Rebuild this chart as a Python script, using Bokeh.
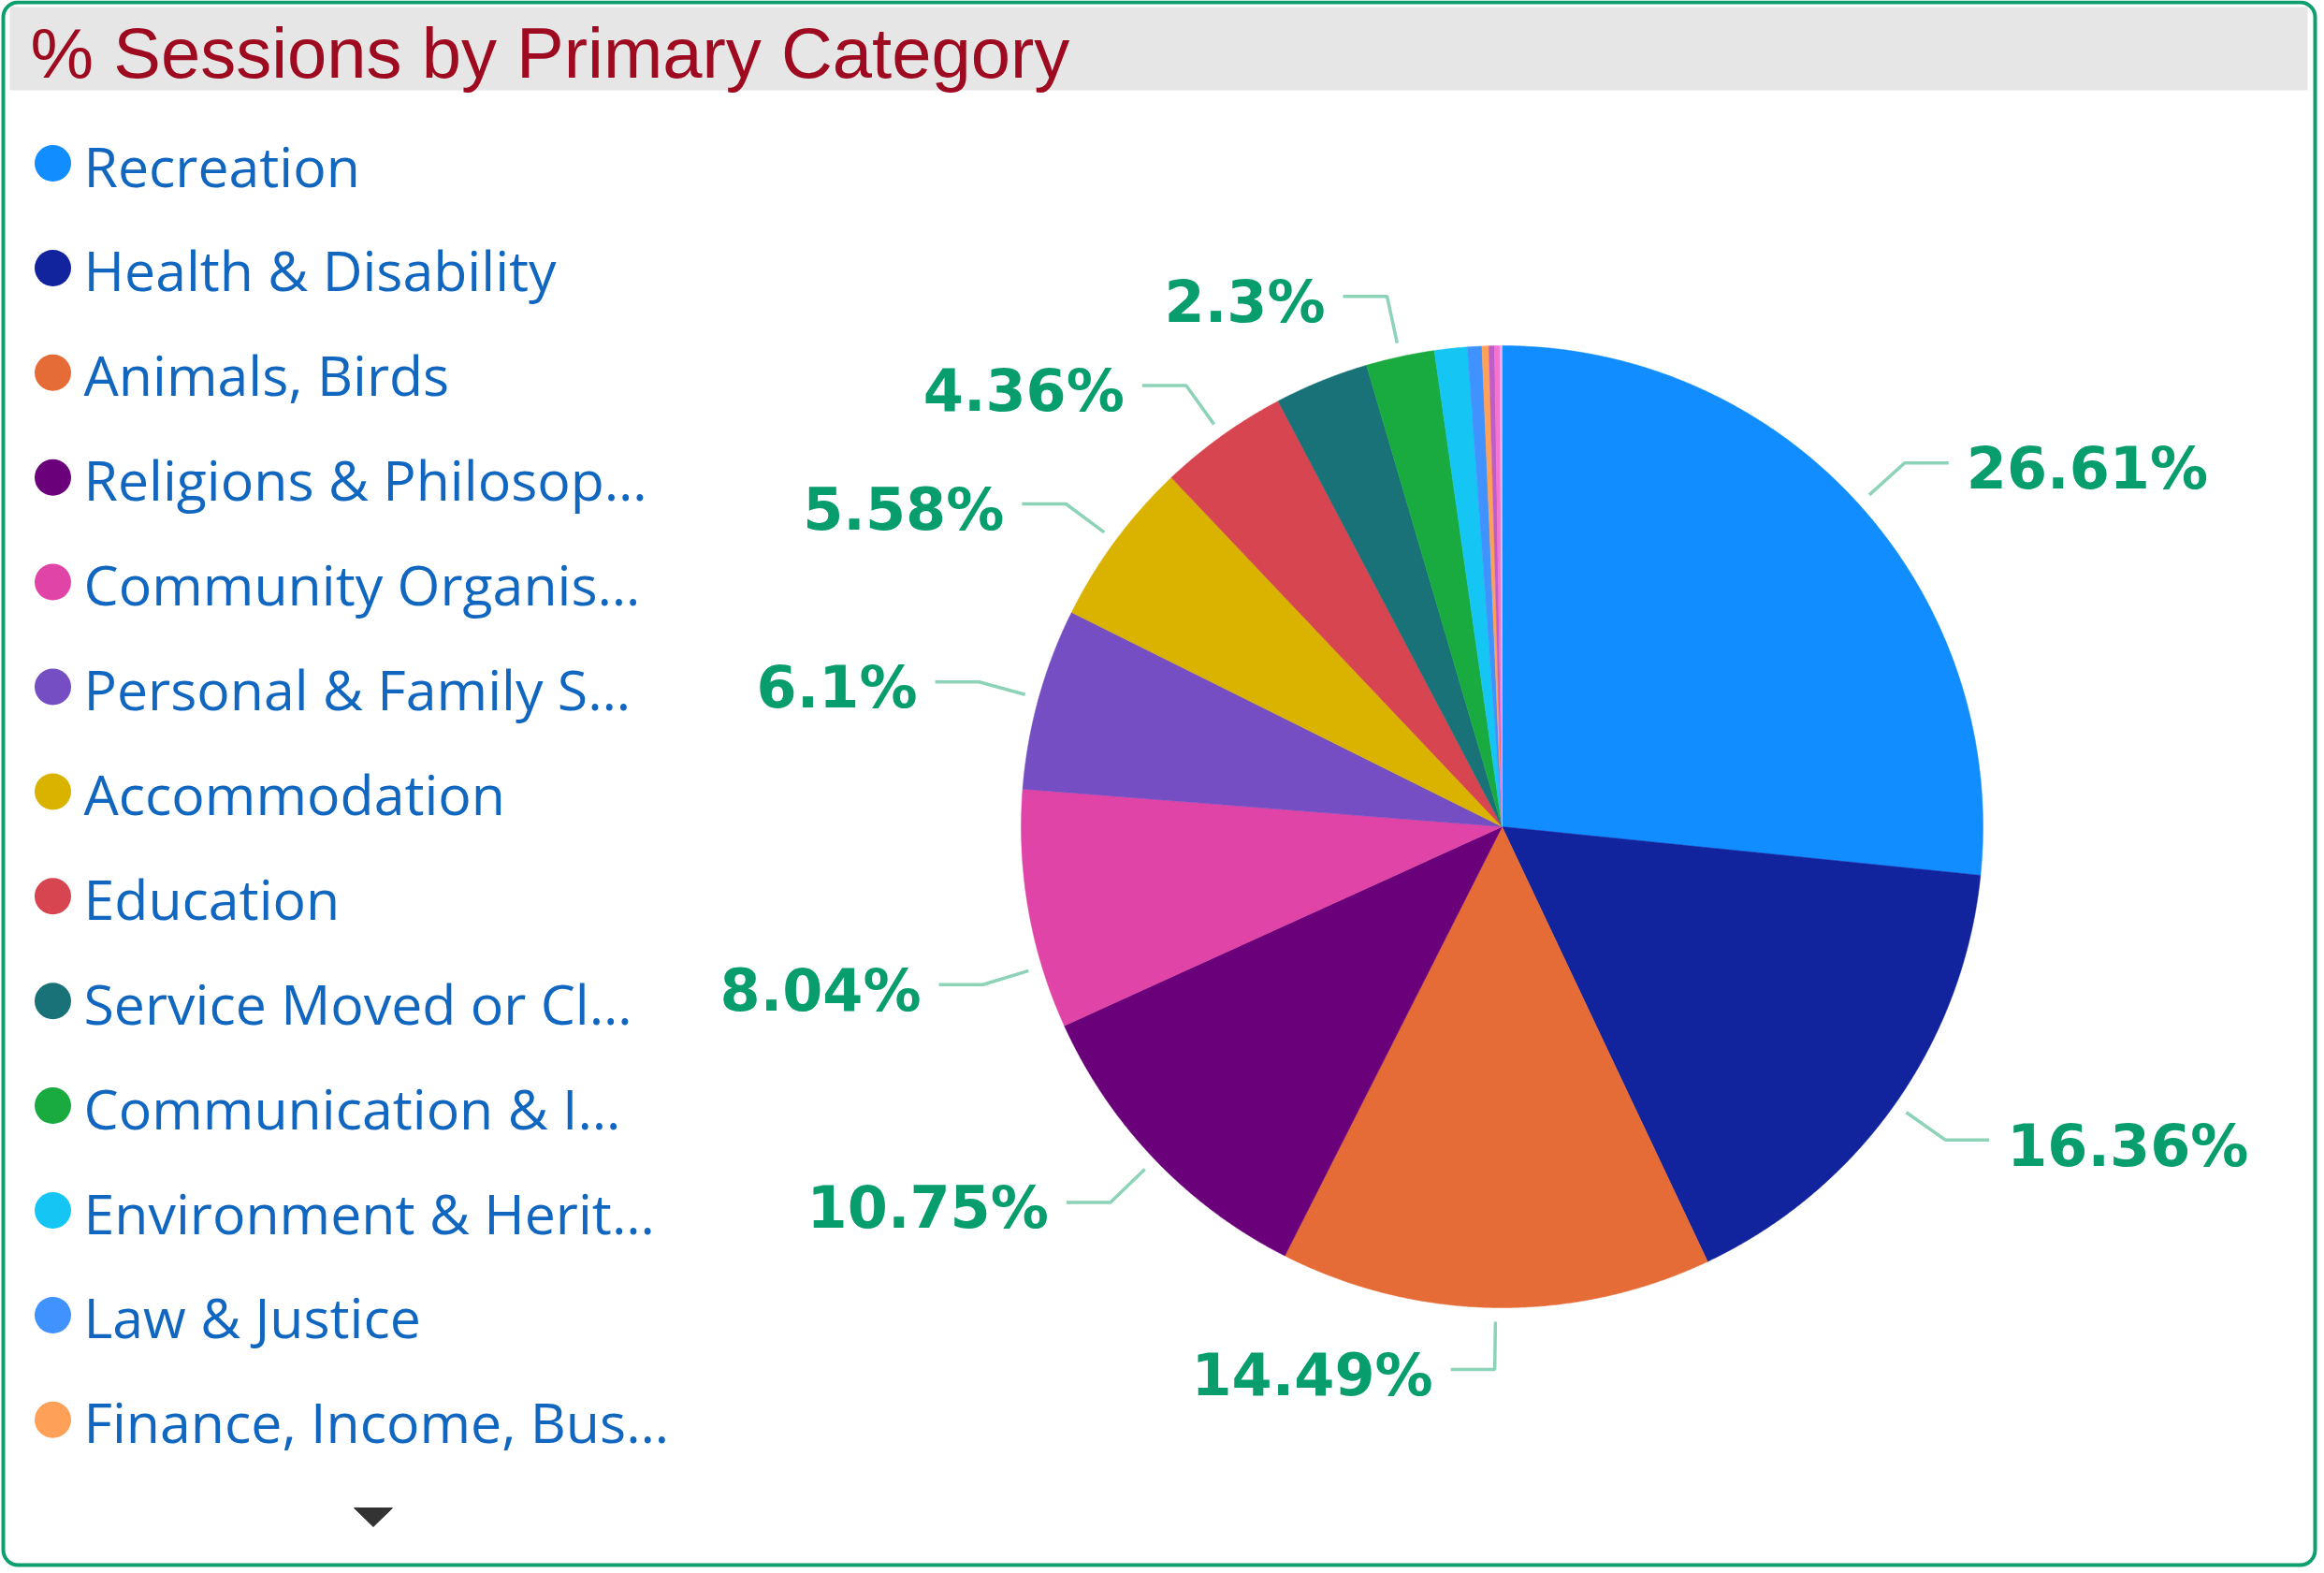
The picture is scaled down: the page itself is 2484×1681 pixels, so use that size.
import numpy as np
from bokeh.plotting import figure
from bokeh.models import Range1d, BoxAnnotation, ColumnDataSource
from bokeh.embed import file_html
from bokeh.resources import INLINE
from bokeh.core.properties import value

# ---------------- data ----------------
title = "% Sessions by Primary Category"
categories = [
    "Recreation", "Health & Disability", "Animals, Birds", "Religions & Philosop\u2026",
    "Community Organis\u2026", "Personal & Family S\u2026", "Accommodation", "Education",
    "Service Moved or Cl\u2026", "Communication & I\u2026", "Environment & Herit\u2026",
    "Law & Justice", "Finance, Income, Bus\u2026", "Employment", "Housing", "Other",
]
percent = [26.61, 16.36, 14.49, 10.75, 8.04, 6.10, 5.58, 4.36, 3.16, 2.30, 1.10, 0.48, 0.23, 0.19, 0.18, 0.07]
show_label = [True, True, True, True, True, True, True, True, False, True, False, False, False, False, False, False]
colors = ["#118DFF", "#12239E", "#E66C37", "#6B007B", "#E044A7", "#744EC2", "#D9B300", "#D64550",
          "#197278", "#1AAB40", "#15C6F4", "#4092FF", "#FFA058", "#BE5DC9", "#F472D0", "#E9B3E6"]
legend_visible = 13
# label anchor position within each slice (0..1), Power BI collision nudge
label_anchor = [0.5, 0.5, 0.5, 0.5, 0.26, 0.5, 0.5, 0.5, 0.5, 0.5, 0.5, 0.5, 0.5, 0.5, 0.5, 0.5]

# ---------------- layout (reference pixels, 1:1) ----------------
W, H = 2480, 1677
p = figure(width=W, height=H, output_backend="svg", toolbar_location=None,
           x_range=Range1d(0, W), y_range=Range1d(H, 0),
           min_border=0, outline_line_color=None, background_fill_color="white",
           border_fill_color="white")
p.axis.visible = False
p.grid.visible = False

# title bar
p.quad(left=[10], right=[2466], top=[7], bottom=[96], fill_color="#E6E6E6", line_color=None)
p.text(x=[32], y=[56], text=[title], text_font=value("Liberation Sans"), text_font_size="76px",
       text_color="#9E0B20", text_baseline="middle", text_align="left")

# pie
cx, cy, r = 1605.0, 883.0, 514.0
vals = np.array(percent, dtype=float)
edges = np.concatenate([[0.0], np.cumsum(vals)]) / vals.sum() * 2 * np.pi
xs, ys = [], []
for i in range(len(vals)):
    a0, a1 = edges[i], edges[i + 1]
    n = max(3, int((a1 - a0) * 240))
    t = np.linspace(a0, a1, n)
    xs.append(np.concatenate([[cx], cx + r * np.sin(t)]).tolist())
    ys.append(np.concatenate([[cy], cy - r * np.cos(t)]).tolist())
p.patches(xs=xs, ys=ys, fill_color=colors, line_color=colors, line_width=0.5)

# data labels with leader lines
lx, ly, tx, ty, tt, ta = [], [], [], [], [], []
for i in range(len(vals)):
    if not show_label[i]:
        continue
    a = edges[i] + label_anchor[i] * (edges[i + 1] - edges[i])
    s, c = np.sin(a), np.cos(a)
    side = 1 if s > 0 else -1
    x1, y1 = cx + (r + 15) * s, cy - (r + 15) * c
    x2, y2 = cx + (r + 66) * s, cy - (r + 66) * c
    x3 = x2 + side * 47
    lx.append([x1, x2, x3]); ly.append([y1, y2, y2])
    tx.append(x3 + side * 19); ty.append(y2 + 6)
    tt.append(f"{percent[i]:g}%")
    ta.append("left" if side > 0 else "right")
p.multi_line(xs=lx, ys=ly, line_color="#8CD3B8", line_width=3.5)
src = ColumnDataSource(dict(x=tx, y=ty, text=tt, align=ta))
p.text(x="x", y="y", text="text", source=src, text_align="align", text_baseline="middle",
       text_font=value("DejaVu Sans"), text_font_style="bold", text_font_size="62px",
       text_color="#079D6D")

# legend
row0, dy = 174.0, 111.9
rows = [row0 + i * dy for i in range(legend_visible)]
p.scatter(x=[56] * legend_visible, y=rows, size=39, marker="circle",
          fill_color=colors[:legend_visible], line_color=None)
p.text(x=[89] * legend_visible, y=[v + 2 for v in rows], text=categories[:legend_visible],
       text_font=value("Open Sans"), text_font_size="59px", text_color="#1167C0",
       text_baseline="middle", text_align="left")
# scroll arrow
p.patch(x=[378, 419, 398.5], y=[1611, 1611, 1631], fill_color="#333333", line_color="#333333")

# card border
p.add_layout(BoxAnnotation(left=3, right=2474, top=2, bottom=1672, fill_alpha=0,
                           line_color="#0E9F6E", line_alpha=1.0, line_width=4, border_radius=16))

open("out.html", "w").write(file_html(p, INLINE))
